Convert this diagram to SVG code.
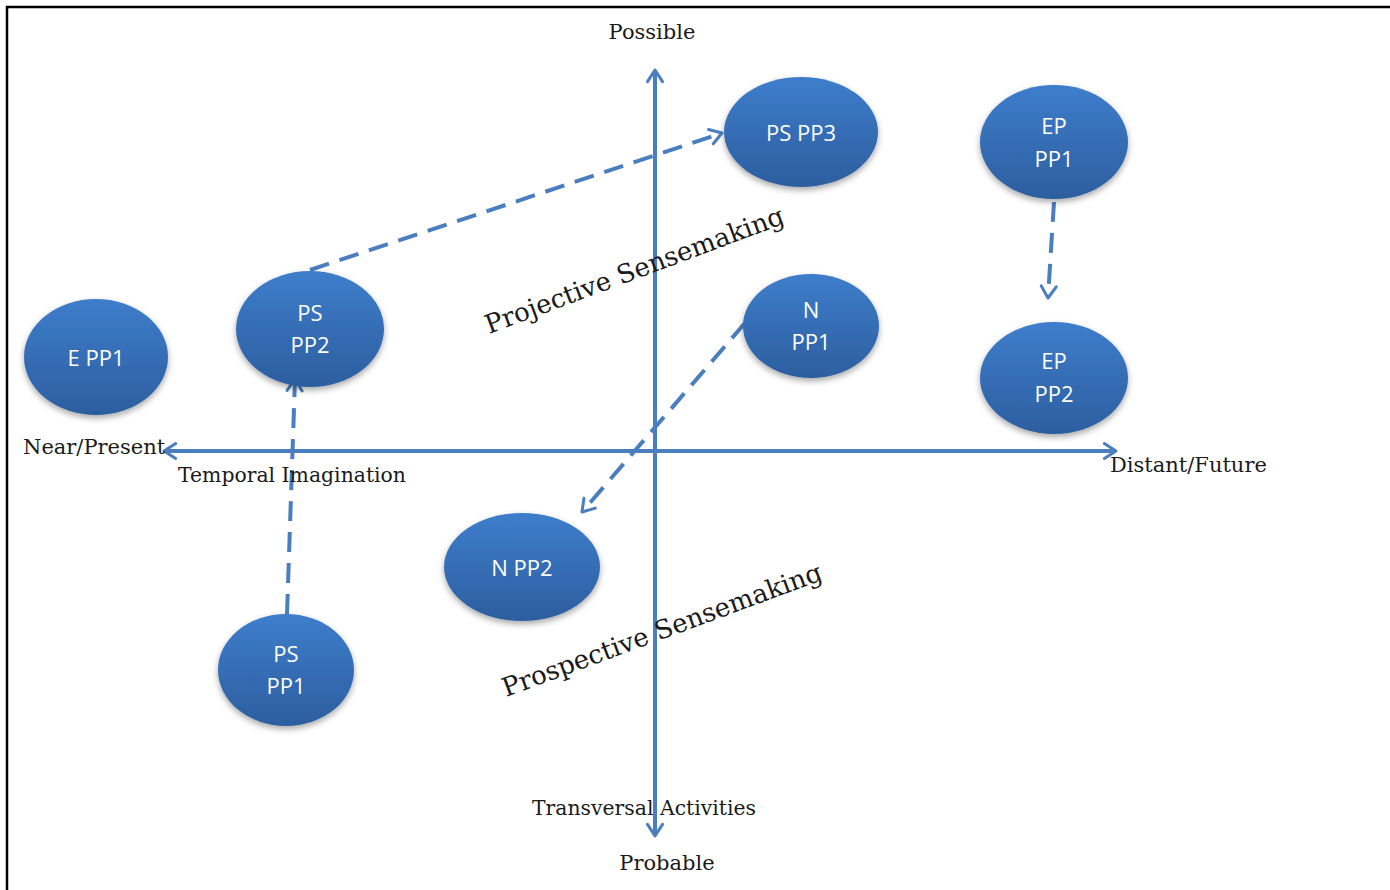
<svg xmlns="http://www.w3.org/2000/svg" width="1390" height="890" viewBox="0 0 1390 890">
<style>
.lbl{font-family:"DejaVu Serif","Liberation Serif",serif;font-size:21px;fill:#1a1a1a}
.big{font-family:"DejaVu Serif","Liberation Serif",serif;font-size:26px;fill:#1a1a1a}
.nt{font-family:"Open Sans","Liberation Sans",sans-serif;font-size:22px;fill:#ffffff;text-anchor:middle}
.node ellipse{fill:url(#g);filter:url(#sh)}
.ax{stroke:#4a7ebf;stroke-width:4;fill:none}
.ds{stroke:#4a7ebf;stroke-width:4;fill:none;stroke-dasharray:20 11}
</style>
<defs>
<linearGradient id="g" x1="0" y1="0" x2="0" y2="1">
<stop offset="0" stop-color="#3e7dcb"/>
<stop offset="1" stop-color="#2c5e9f"/>
</linearGradient>
<filter id="sh" x="-20%" y="-20%" width="140%" height="150%">
<feDropShadow dx="0" dy="3" stdDeviation="3" flood-color="#000" flood-opacity="0.35"/>
</filter>
<marker id="arr" viewBox="0 0 12 12" refX="10" refY="6" markerWidth="5" markerHeight="5" orient="auto-start-reverse" markerUnits="strokeWidth">
<path d="M3,1.5 L10,6 L3,10.5" fill="none" stroke="#4a7ebf" stroke-width="1.8" stroke-linecap="round" stroke-linejoin="round"/>
</marker>
</defs>
<rect width="1390" height="890" fill="#ffffff"/>
<path d="M7,890 V7 H1390" fill="none" stroke="#000" stroke-width="2.5"/>

<g id="connectors">
<line class="ax" x1="655" y1="836" x2="655" y2="70" marker-start="url(#arr)" marker-end="url(#arr)"/>
<line class="ax" x1="164" y1="451" x2="1116" y2="451" marker-start="url(#arr)" marker-end="url(#arr)"/>
<line class="ds" x1="310" y1="270" x2="722" y2="133" marker-end="url(#arr)"/>
<line class="ds" x1="1054" y1="202" x2="1048" y2="298" marker-end="url(#arr)"/>
<line class="ds" x1="745" y1="323" x2="582" y2="512" marker-end="url(#arr)"/>
<line class="ds" x1="287" y1="614" x2="295" y2="379" marker-end="url(#arr)"/>
</g>

<g id="labels">
<text class="lbl" x="652" y="39" text-anchor="middle">Possible</text>
<text class="lbl" x="667" y="870" text-anchor="middle">Probable</text>
<text class="lbl" x="532" y="815" textLength="224" lengthAdjust="spacingAndGlyphs">Transversal Activities</text>
<text class="lbl" x="23" y="454">Near/Present</text>
<text class="lbl" x="178" y="482" textLength="228" lengthAdjust="spacingAndGlyphs">Temporal Imagination</text>
<text class="lbl" x="1110" y="472">Distant/Future</text>
<text class="big" transform="translate(489,334) rotate(-20.5)">Projective Sensemaking</text>
<text class="big" transform="translate(506,697) rotate(-20.3)">Prospective Sensemaking</text>
</g>

<g id="n-epp1" class="node"><ellipse cx="96" cy="357" rx="72" ry="58"/><text class="nt" x="96" y="366">E PP1</text></g>
<g id="n-pspp2" class="node"><ellipse cx="310" cy="329" rx="74" ry="58"/><text class="nt" x="310" y="321">PS</text><text class="nt" x="310" y="353">PP2</text></g>
<g id="n-pspp3" class="node"><ellipse cx="801" cy="132" rx="77" ry="55"/><text class="nt" x="801" y="141">PS PP3</text></g>
<g id="n-eppp1" class="node"><ellipse cx="1054" cy="142" rx="74" ry="57"/><text class="nt" x="1054" y="134">EP</text><text class="nt" x="1054" y="167">PP1</text></g>
<g id="n-npp1" class="node"><ellipse cx="811" cy="326" rx="68" ry="52"/><text class="nt" x="811" y="318">N</text><text class="nt" x="811" y="350">PP1</text></g>
<g id="n-eppp2" class="node"><ellipse cx="1054" cy="378" rx="74" ry="56"/><text class="nt" x="1054" y="369">EP</text><text class="nt" x="1054" y="402">PP2</text></g>
<g id="n-npp2" class="node"><ellipse cx="522" cy="567" rx="78" ry="54"/><text class="nt" x="522" y="576">N PP2</text></g>
<g id="n-pspp1" class="node"><ellipse cx="286" cy="670" rx="68" ry="56"/><text class="nt" x="286" y="662">PS</text><text class="nt" x="286" y="694">PP1</text></g>
</svg>
